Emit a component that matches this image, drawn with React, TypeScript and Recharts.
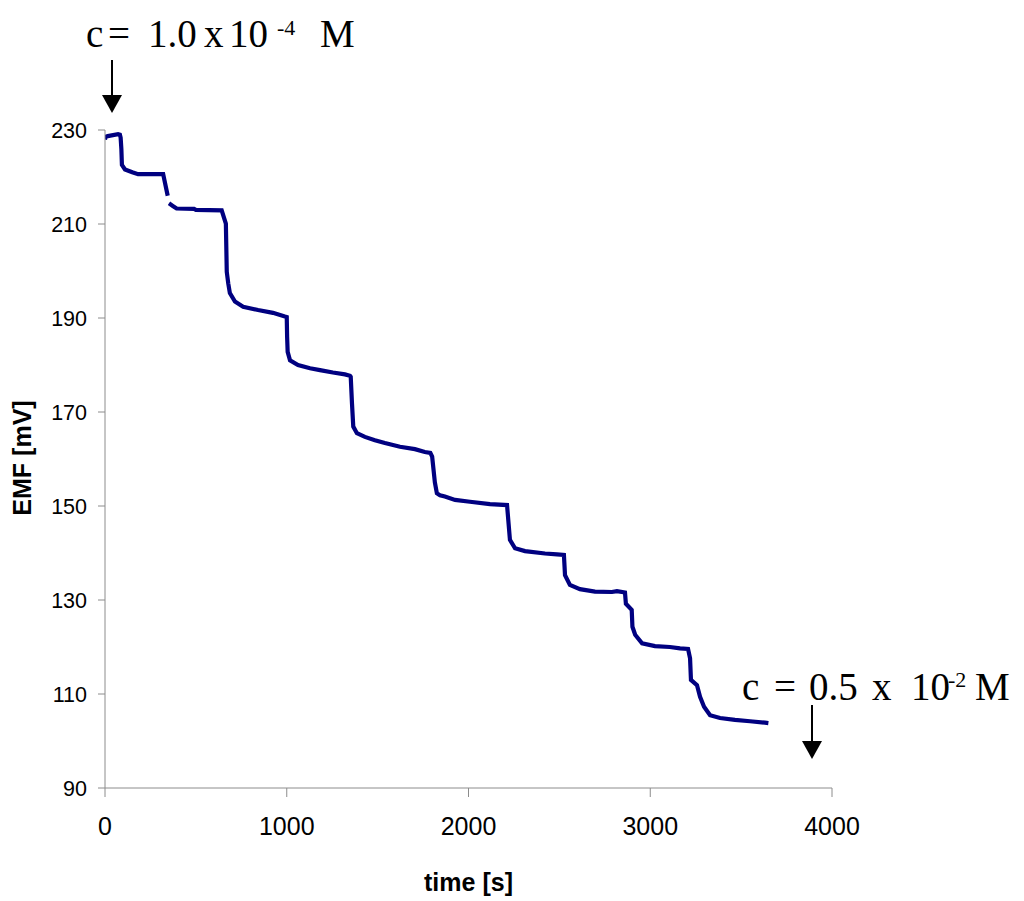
import React from "react";
import { LineChart, Line, XAxis, YAxis } from "recharts";

// time [s]
const times: number[] = [
  0, 5, 15, 72, 82, 86, 90, 93, 110, 150, 182, 320, 345, 348, 352, 375, 394, 490,
  500, 642, 665, 670, 678, 687, 715, 760, 842, 924, 990, 1000, 1002, 1005, 1018,
  1062, 1128, 1183, 1254, 1320, 1348, 1352, 1359, 1366, 1386, 1430, 1485, 1540,
  1623, 1705, 1760, 1790, 1800, 1815, 1826, 1843, 1870, 1926, 2008, 2118, 2212,
  2228, 2256, 2311, 2421, 2487, 2525, 2531, 2558, 2613, 2696, 2789, 2817, 2861,
  2866, 2898, 2902, 2917, 2955, 3026, 3108, 3164, 3208, 3219, 3224, 3257, 3274,
  3296, 3329, 3384, 3466, 3549, 3631, 3650,
];

// EMF [mV]
const emf: (number | null)[] = [
  228.0, 228.6, 228.7, 229.1, 229.0, 228.4, 226.0, 222.6, 221.6, 221.0, 220.6,
  220.6, 216.0, null, 214.4, 213.8, 213.3, 213.2, 213.0, 212.9, 210.1, 199.8,
  197.4, 195.3, 193.5, 192.4, 191.7, 191.1, 190.3, 190.2, 186.0, 182.8, 181.0,
  180.0, 179.3, 178.9, 178.4, 178.0, 177.7, 177.5, 171.8, 166.9, 165.5, 164.7,
  164.0, 163.4, 162.6, 162.1, 161.5, 161.3, 160.5, 155.0, 152.7, 152.3, 152.0,
  151.3, 150.9, 150.4, 150.2, 142.8, 141.0, 140.4, 139.9, 139.7, 139.6, 135.3,
  133.2, 132.3, 131.8, 131.7, 131.9, 131.6, 129.2, 127.9, 124.3, 122.6, 120.8,
  120.2, 120.0, 119.7, 119.6, 117.6, 113.0, 111.9, 109.4, 107.3, 105.5, 104.9,
  104.5, 104.2, 103.9, 103.8,
];

const xTicks: number[] = [0, 1000, 2000, 3000, 4000];
const yTicks: number[] = [90, 110, 130, 150, 170, 190, 210, 230];

const data = times.map((t, i) => ({ t, v: emf[i] }));

const SANS = "'Liberation Sans', Arial, sans-serif";
const SERIF = "'Liberation Serif', 'Times New Roman', serif";
const AXIS = "#8c8c8c";

const XLabel = (props: any) => {
  const vb = props.viewBox || { x: 105, y: 788, width: 727, height: 40 };
  return (
    <text
      x={vb.x + vb.width / 2}
      y={vb.y + 103}
      textAnchor="middle"
      fontFamily={SANS}
      fontWeight="bold"
      fontSize={25}
      fill="#000"
    >
      time [s]
    </text>
  );
};

const YLabel = (props: any) => {
  const vb = props.viewBox || { x: 45, y: 130, width: 60, height: 658 };
  const cx = 31;
  const cy = vb.y + vb.height / 2 - 1;
  return (
    <text
      x={cx}
      y={cy}
      transform={`rotate(-90, ${cx}, ${cy})`}
      textAnchor="middle"
      fontFamily={SANS}
      fontWeight="bold"
      fontSize={25}
      fill="#000"
    >
      EMF [mV]
    </text>
  );
};

export default function App() {
  return (
    <div style={{ position: "absolute", left: 0, top: 0, width: 1024, height: 901, background: "#fff" }}>
      <LineChart
        width={1024}
        height={901}
        data={data}
        margin={{ top: 130, right: 192, bottom: 73, left: 45 }}
      >
        <XAxis
          type="number"
          dataKey="t"
          domain={[0, 4000]}
          ticks={xTicks}
          allowDataOverflow
          height={40}
          stroke={AXIS}
          tickSize={9}
          tickMargin={20}
          tick={{ fill: "#000", fontSize: 25, fontFamily: SANS }}
          tickLine={{ stroke: AXIS }}
          label={<XLabel />}
        />
        <YAxis
          type="number"
          domain={[90, 230]}
          ticks={yTicks}
          allowDataOverflow
          width={60}
          stroke={AXIS}
          tickSize={7}
          tickMargin={11}
          tick={{ fill: "#000", fontSize: 21.5, fontFamily: SANS }}
          tickLine={{ stroke: AXIS }}
          label={<YLabel />}
        />
        <Line
          type="linear"
          dataKey="v"
          stroke="#000080"
          strokeWidth={4.2}
          dot={false}
          connectNulls={false}
          isAnimationActive={false}
        />
      </LineChart>
      <svg
        width={1024}
        height={901}
        style={{ position: "absolute", left: 0, top: 0, pointerEvents: "none" }}
      >
        <text fontFamily={SERIF} fontSize={39} fill="#000" y={47}>
          <tspan x={86}>c</tspan>
          <tspan x={108}>=</tspan>
          <tspan x={148}>1.0</tspan>
          <tspan x={204}>x</tspan>
          <tspan x={229}>10</tspan>
          <tspan x={277} y={35} fontSize={22}>-4</tspan>
          <tspan x={320} y={47}>M</tspan>
        </text>
        <line x1={112} y1={60} x2={112} y2={96} stroke="#000" strokeWidth={2} />
        <polygon points="102,95 122,95 112,113" fill="#000" />

        <text fontFamily={SERIF} fontSize={39} fill="#000" y={700}>
          <tspan x={742}>c</tspan>
          <tspan x={774}>=</tspan>
          <tspan x={809}>0.5</tspan>
          <tspan x={872}>x</tspan>
          <tspan x={911}>10</tspan>
          <tspan x={948} y={687} fontSize={22}>-2</tspan>
          <tspan x={975} y={700}>M</tspan>
        </text>
        <line x1={812} y1={705} x2={812} y2={742} stroke="#000" strokeWidth={2} />
        <polygon points="802,741 822,741 812,759" fill="#000" />
      </svg>
    </div>
  );
}
